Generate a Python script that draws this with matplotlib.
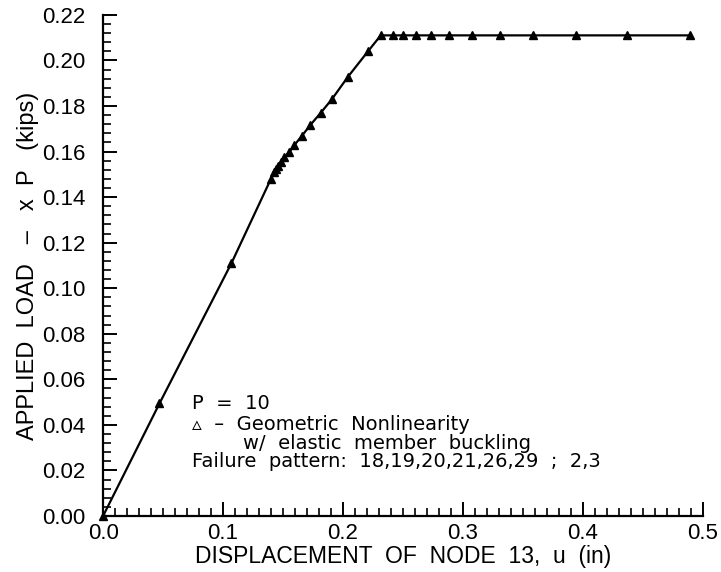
import matplotlib
matplotlib.use("Agg")
import matplotlib.pyplot as plt
from matplotlib.ticker import MultipleLocator, FormatStrFormatter

disp = [0.0, 0.047, 0.107, 0.1398, 0.1425, 0.1442, 0.1461, 0.1481, 0.1511, 0.1553,
        0.1594, 0.1656, 0.1725, 0.1814, 0.1906, 0.2042, 0.2208, 0.2314,
        0.2419, 0.2503, 0.2608, 0.2731, 0.2886, 0.3078, 0.3308, 0.3586,
        0.3942, 0.4364, 0.4892]
load = [0.0, 0.0494, 0.111, 0.1479, 0.1511, 0.1522, 0.1537, 0.1552, 0.1574, 0.1598,
        0.1628, 0.1668, 0.1715, 0.1770, 0.1829, 0.1929, 0.2040, 0.2110,
        0.2110, 0.2110, 0.2110, 0.2110, 0.2110, 0.2110, 0.2110, 0.2110,
        0.2110, 0.2110, 0.2110]

xticks = [0.0, 0.1, 0.2, 0.3, 0.4, 0.5]
yticks = [0.00, 0.02, 0.04, 0.06, 0.08, 0.10, 0.12, 0.14, 0.16, 0.18, 0.20, 0.22]

plt.rcParams['font.family'] = ['Liberation Sans', 'DejaVu Sans']

fig = plt.figure(figsize=(7.21, 5.72), dpi=100)
ax = fig.add_axes([0.143, 0.098, 0.832, 0.876])

ax.plot(disp, load, color='black', lw=1.6, marker='^', markersize=6,
        markerfacecolor='black', markeredgecolor='black', clip_on=False)

ax.set_xlim(0, 0.5)
ax.set_ylim(0, 0.22)
ax.set_xticks(xticks)
ax.set_yticks(yticks)
ax.xaxis.set_major_formatter(FormatStrFormatter('%.1f'))
ax.yaxis.set_major_formatter(FormatStrFormatter('%.2f'))
ax.xaxis.set_minor_locator(MultipleLocator(0.01))
ax.yaxis.set_minor_locator(MultipleLocator(0.004))

for s in ['top', 'right']:
    ax.spines[s].set_visible(False)
for s in ['left', 'bottom']:
    ax.spines[s].set_linewidth(1.6)

ax.tick_params(which='major', direction='in', length=10, width=1.4)
ax.tick_params(which='minor', direction='in', length=6, width=1.2)
ax.tick_params(axis='y', which='major', labelsize=16, pad=13)
ax.tick_params(axis='x', which='major', labelsize=16, pad=5)

ax.set_xlabel('DISPLACEMENT  OF  NODE  13,  u  (in)', fontsize=16.5, labelpad=1)
ax.set_ylabel('APPLIED  LOAD   \u2013   x  P   (kips)', fontsize=17, labelpad=2)

tx = 0.074
ann = dict(fontsize=14, va='center', ha='left', family=['DejaVu Sans'])
ax.text(tx, 0.0494, 'P  =  10', **ann)
ax.text(tx, 0.0402, '\u25b5  \u2013  Geometric  Nonlinearity', **ann)
ax.text(tx + 0.0425, 0.0318, 'w/  elastic  member  buckling', **ann)
ax.text(tx, 0.0240, 'Failure  pattern:  18,19,20,21,26,29  ;  2,3', **ann)

fig.savefig('out.png', dpi=100)
